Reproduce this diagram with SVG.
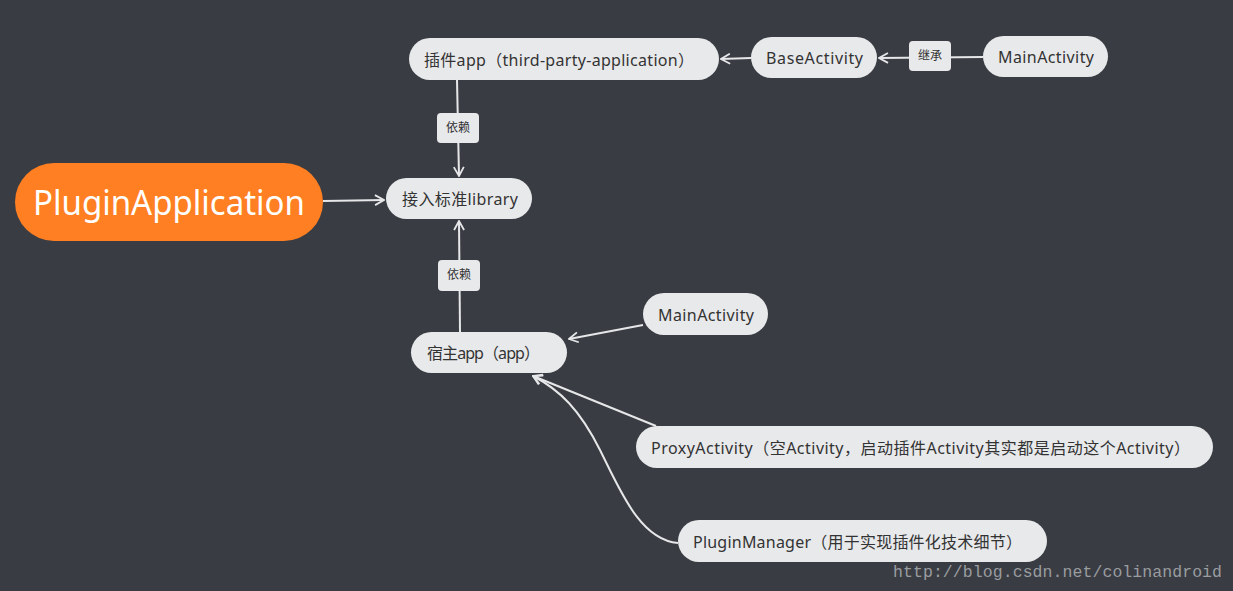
<svg xmlns="http://www.w3.org/2000/svg" width="1233" height="591" viewBox="0 0 1233 591">
<defs>
<marker id="arr" viewBox="0 0 12 12" refX="11" refY="6" markerWidth="12" markerHeight="12" markerUnits="userSpaceOnUse" orient="auto">
<path d="M2,1 L11,6 L2,11" fill="none" stroke="#e6e7e9" stroke-width="1.8"/>
</marker>
<style>
.n{fill:#e8e9eb}
.t{font-family:"Noto Sans","Noto Sans CJK SC",sans-serif;font-size:16px;fill:#333}
.lb{fill:#e8e9eb}
.lt{font-family:"Noto Sans CJK SC",sans-serif;font-size:12px;fill:#333;text-anchor:middle}
.c{fill:none;stroke:#e6e7e9;stroke-width:2}
</style>
</defs>
<rect width="1233" height="591" fill="#393c42"/>
<g id="connectors">
<path class="c" d="M323,201 L384,200" marker-end="url(#arr)"/>
<path class="c" d="M751,58 L721,59" marker-end="url(#arr)"/>
<path class="c" d="M983,57 L879,58" marker-end="url(#arr)"/>
<path class="c" d="M457,80 L459,176" marker-end="url(#arr)"/>
<path class="c" d="M460,332 L459,221" marker-end="url(#arr)"/>
<path class="c" d="M643,325 L569,339" marker-end="url(#arr)"/>
<path class="c" d="M656,426 L533,376" marker-end="url(#arr)"/>
<path class="c" d="M678,543 C640,540 620,490 600,450 C580,410 560,390 533,376" marker-end="url(#arr)"/>
</g>
<g id="label-jicheng"><rect class="lb" x="909" y="41" width="42" height="30" rx="4"/><text class="lt" x="930" y="60">继承</text></g>
<g id="label-yilai1"><rect class="lb" x="437" y="113" width="42" height="30" rx="4"/><text class="lt" x="458" y="132">依赖</text></g>
<g id="label-yilai2"><rect class="lb" x="438" y="260" width="42" height="31" rx="4"/><text class="lt" x="459" y="279">依赖</text></g>
<g id="node-root"><rect x="15" y="163" width="308" height="78" rx="39" fill="#ff7f22"/><text x="33" y="215" font-family="'Noto Sans',sans-serif" font-size="34" fill="#fff" textLength="272" lengthAdjust="spacingAndGlyphs">PluginApplication</text></g>
<g id="node-library"><rect class="n" x="386" y="178" width="146" height="41" rx="20.5"/><text class="t" x="402" y="205" textLength="116">接入标准library</text></g>
<g id="node-plugin"><rect class="n" x="409" y="38" width="310" height="42" rx="21"/><text class="t" x="424" y="66" textLength="270">插件app（third-party-application）</text></g>
<g id="node-base"><rect class="n" x="751" y="37" width="126" height="41" rx="20.5"/><text class="t" x="766" y="64" textLength="97">BaseActivity</text></g>
<g id="node-main1"><rect class="n" x="983" y="36" width="125" height="41" rx="20.5"/><text class="t" x="998" y="63" textLength="96">MainActivity</text></g>
<g id="node-host"><rect class="n" x="411" y="332" width="156" height="41" rx="20.5"/><text class="t" x="427" y="359" textLength="113">宿主app（app）</text></g>
<g id="node-main2"><rect class="n" x="643" y="293" width="125" height="42" rx="21"/><text class="t" x="658" y="321" textLength="96">MainActivity</text></g>
<g id="node-proxy"><rect class="n" x="636" y="426" width="577" height="42" rx="21"/><text class="t" x="651" y="454" textLength="539">ProxyActivity（空Activity，启动插件Activity其实都是启动这个Activity）</text></g>
<g id="node-manager"><rect class="n" x="678" y="520" width="369" height="42" rx="21"/><text class="t" x="693" y="548" textLength="329">PluginManager（用于实现插件化技术细节）</text></g>
<text x="893" y="577" font-family="'Liberation Mono',monospace" font-size="16.5" fill="#9a9ca0" textLength="329">http://blog.csdn.net/colinandroid</text>
</svg>
